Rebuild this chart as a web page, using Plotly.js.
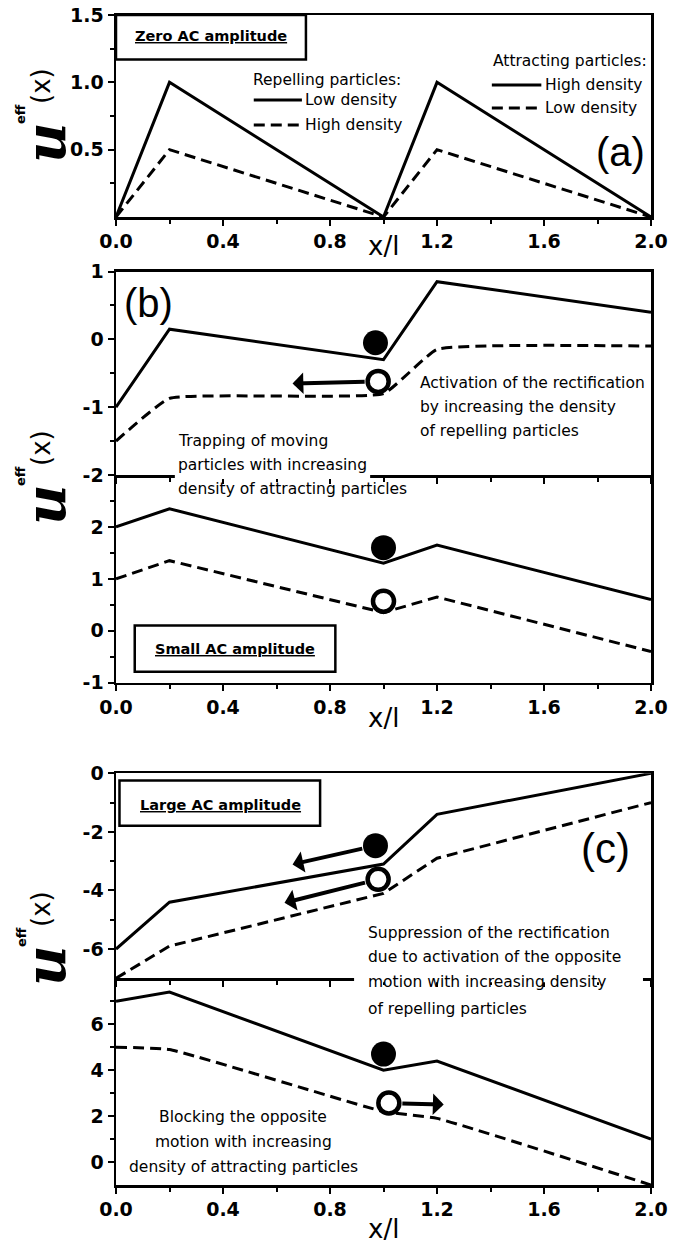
<!DOCTYPE html>
<html><head><meta charset="utf-8">
<script src="https://cdn.plot.ly/plotly-3.0.1.min.js"></script>
<style>html,body{margin:0;padding:0;background:#fff}</style>
</head><body><div id="chart" style="width:694px;height:1245px"></div>
<script>
// ---------------- data ----------------
const xPts = [0, 0.2, 1.0, 1.2, 2.0];
const aSolid  = [0, 1.0, 0, 1.0, 0];
const aDashed = [0, 0.5, 0, 0.5, 0];
const bUpperSolid  = [-1.0, 0.15, -0.3, 0.85, 0.4];
const bUpperDashed = [-1.5, -0.87, -0.8, -0.15, -0.1];
const bLowerSolid  = [2.0, 2.35, 1.3, 1.65, 0.6];
const bLowerDashed = [1.0, 1.35, 0.35, 0.65, -0.4];
const cUpperSolid  = [-6.0, -4.4, -3.1, -1.4, 0];
const cUpperDashed = [-7.0, -5.9, -4.1, -2.9, -1.0];
const cLowerSolid  = [7.0, 7.4, 4.0, 4.4, 1.0];
const cLowerDashed = [5.0, 4.9, 2.2, 1.9, -1.0];

// particles: filled (solid curve) and open (dashed curve)
const bUpperFilledX = [0.97], bUpperFilledY = [-0.05];
const bUpperOpenX   = [0.98], bUpperOpenY   = [-0.62];
const bLowerFilledX = [1.0],  bLowerFilledY = [1.6];
const bLowerOpenX   = [1.0],  bLowerOpenY   = [0.57];
const cUpperFilledX = [0.97], cUpperFilledY = [-2.47];
const cUpperOpenX   = [0.98], cUpperOpenY   = [-3.62];
const cLowerFilledX = [1.0],  cLowerFilledY = [4.7];
const cLowerOpenX   = [1.02], cLowerOpenY   = [2.57];

// arrows: [tailX, tailY, headX, headY]
const bArrow  = [0.98, -0.62, 0.66, -0.65];
const cArrow1 = [0.97, -2.47, 0.66, -3.11];
const cArrow2 = [0.98, -3.62, 0.63, -4.42];
const cArrow3 = [1.02, 2.57, 1.225, 2.5];

// ticks
const xTickVals = [0, 0.4, 0.8, 1.2, 1.6, 2.0];
const xTickText = ['0.0', '0.4', '0.8', '1.2', '1.6', '2.0'];
const xMinorVals = [0.2, 0.6, 1.0, 1.4, 1.8];
const aYTickVals = [0.5, 1.0, 1.5], aYTickText = ['0.5', '1.0', '1.5'], aYMinor = [0.25, 0.75, 1.25];
const bUYTickVals = [-2, -1, 0, 1], bUYTickText = ['-2', '-1', '0', '1'], bUYMinor = [-1.5, -0.5, 0.5];
const bLYTickVals = [-1, 0, 1, 2], bLYTickText = ['-1', '0', '1', '2'], bLYMinor = [-0.5, 0.5, 1.5, 2.5];
const cUYTickVals = [-6, -4, -2, 0], cUYTickText = ['-6', '-4', '-2', '0'], cUYMinor = [-5, -3, -1];
const cLYTickVals = [0, 2, 4, 6], cLYTickText = ['0', '2', '4', '6'], cLYMinor = [1, 3, 5, 7];

// ---------------- layout helpers ----------------
const H = 1245, W = 694;
const P = py => 1 - py / H;
const XD = [116 / W, 651 / W];
const TXT = 'DejaVu Sans';
const tickFont = {family: 'DejaVu Sans', size: 19, color: '#000', weight: 'bold'};

function xax(anchor, labels, mirror) {
  return {
    domain: XD, anchor: anchor, range: [0, 2], showgrid: false, zeroline: false,
    showline: true, linewidth: 2.5, linecolor: '#000', mirror: mirror,
    tickmode: 'array', tickvals: xTickVals, ticktext: xTickText,
    showticklabels: labels, ticks: 'outside', ticklen: 6, tickwidth: 2, tickcolor: '#000',
    tickfont: tickFont, fixedrange: true,
    minor: {tickmode: 'array', tickvals: xMinorVals, ticks: 'outside', ticklen: 4, tickwidth: 2, tickcolor: '#000'}
  };
}
function yax(anchor, dom, range, tv, tt, mv) {
  return {
    domain: dom, anchor: anchor, range: range, showgrid: false, zeroline: false,
    showline: true, linewidth: 2.5, linecolor: '#000', mirror: true,
    tickmode: 'array', tickvals: tv, ticktext: tt,
    ticks: 'outside', ticklen: 6, tickwidth: 2, tickcolor: '#000',
    tickfont: tickFont, fixedrange: true,
    minor: {tickmode: 'array', tickvals: mv, ticks: 'outside', ticklen: 4, tickwidth: 2, tickcolor: '#000'}
  };
}

function line(y, xa, ya, dashed, smooth) {
  return {
    x: xPts, y: y, xaxis: xa, yaxis: ya, mode: 'lines', showlegend: false, hoverinfo: 'skip',
    line: {color: '#000', width: 3, dash: dashed ? '11px,6px' : 'solid',
           shape: smooth ? 'spline' : 'linear', smoothing: smooth ? 0.35 : 0}
  };
}
function particle(x, y, xa, ya, filled) {
  return {
    x: x, y: y, xaxis: xa, yaxis: ya, mode: 'markers', showlegend: false, hoverinfo: 'skip',
    marker: {symbol: 'circle', size: filled ? 25 : 21, color: filled ? '#000' : '#fff',
             line: {color: '#000', width: filled ? 0 : 4.5}}
  };
}

const traces = [
  line(aSolid, 'x', 'y', false), line(aDashed, 'x', 'y', true),
  line(bUpperSolid, 'x2', 'y2', false), line(bUpperDashed, 'x2', 'y2', true, true),
  line(bLowerSolid, 'x3', 'y3', false), line(bLowerDashed, 'x3', 'y3', true),
  line(cUpperSolid, 'x4', 'y4', false), line(cUpperDashed, 'x4', 'y4', true),
  line(cLowerSolid, 'x5', 'y5', false), line(cLowerDashed, 'x5', 'y5', true, true),
  particle(bUpperFilledX, bUpperFilledY, 'x2', 'y2', true),
  particle(bUpperOpenX, bUpperOpenY, 'x2', 'y2', false),
  particle(bLowerFilledX, bLowerFilledY, 'x3', 'y3', true),
  particle(bLowerOpenX, bLowerOpenY, 'x3', 'y3', false),
  particle(cUpperFilledX, cUpperFilledY, 'x4', 'y4', true),
  particle(cUpperOpenX, cUpperOpenY, 'x4', 'y4', false),
  particle(cLowerFilledX, cLowerFilledY, 'x5', 'y5', true),
  particle(cLowerOpenX, cLowerOpenY, 'x5', 'y5', false)
];

// ---------------- annotations ----------------
const ann = [];
function txt(text, x, xref, py, opts) {
  ann.push(Object.assign({
    text: text, x: x, xref: xref, y: P(py), yref: 'paper', showarrow: false,
    xanchor: 'left', yanchor: 'middle', font: {family: TXT, size: 15.5, color: '#000'}
  }, opts || {}));
}
function arrow(a, xref, yref) {
  ann.push({
    text: '', x: a[2], y: a[3], ax: a[0], ay: a[1], xref: xref, yref: yref, axref: xref, ayref: yref,
    showarrow: true, arrowhead: 1, arrowsize: 0.9, arrowwidth: 4, arrowcolor: '#000',
    startstandoff: 12, standoff: 0
  });
}

// panel (a)
txt('<u><b>Zero AC amplitude</b></u>', 0.355, 'x', 36, {xanchor: 'center', font: {family: TXT, size: 14.5, color: '#000'}});
txt('Repelling particles:', 0.505, 'x', 80);
txt('Low density', 0.70, 'x', 100);
txt('High density', 0.70, 'x', 125);
txt('Attracting particles:', 1.40, 'x', 61);
txt('High density', 1.595, 'x', 85);
txt('Low density', 1.595, 'x', 108);
txt('(a)', 1.885, 'x', 152, {xanchor: 'center', font: {family: 'Liberation Sans', size: 40, color: '#000'}});

// panel (b)
txt('(b)', 0.12, 'x2', 303, {xanchor: 'center', font: {family: 'Liberation Sans', size: 40, color: '#000'}});
txt('Activation of the rectification', 1.13, 'x2', 383);
txt('by increasing the density', 1.13, 'x2', 407);
txt('of repelling particles', 1.13, 'x2', 431);
txt('Trapping of moving', 0.225, 'x2', 441);
txt('particles with increasing', 0.225, 'x2', 465);
txt('density of attracting particles', 0.225, 'x2', 489);
txt('<u><b>Small AC amplitude</b></u>', 0.445, 'x3', 649, {xanchor: 'center', font: {family: TXT, size: 14.5, color: '#000'}});

// panel (c)
txt('<u><b>Large AC amplitude</b></u>', 0.39, 'x4', 805, {xanchor: 'center', font: {family: TXT, size: 14.5, color: '#000'}});
txt('(c)', 1.83, 'x4', 848, {xanchor: 'center', font: {family: 'Liberation Sans', size: 42, color: '#000'}});
txt('Suppression of the rectification', 0.935, 'x4', 933);
txt('due to activation of the opposite', 0.935, 'x4', 957);
txt('motion with increasing density', 0.935, 'x4', 982);
txt('of repelling particles', 0.935, 'x4', 1009);
txt('Blocking the opposite', 0.475, 'x5', 1117, {xanchor: 'center'});
txt('motion with increasing', 0.475, 'x5', 1142, {xanchor: 'center'});
txt('density of attracting particles', 0.475, 'x5', 1167, {xanchor: 'center'});

// x titles
[[246, 'x'], [718, 'x3'], [1229, 'x5']].forEach(([py, xr]) =>
  txt('x/l', 1.0, xr, py, {xanchor: 'center', font: {family: TXT, size: 26, color: '#000'}}));

// y titles (u^eff(x)), rotated
[143, 505, 966].forEach(py => {
  ann.push({text: 'u', x: 45 / W, xref: 'paper', y: P(py), yref: 'paper', showarrow: false,
    textangle: -90, xanchor: 'center', yanchor: 'middle',
    font: {family: 'DejaVu Serif', size: 56, color: '#000', weight: 'bold', style: 'italic'}});
  ann.push({text: 'eff', x: 21 / W, xref: 'paper', y: P(py - 29), yref: 'paper', showarrow: false,
    textangle: -90, xanchor: 'center', yanchor: 'middle',
    font: {family: 'DejaVu Sans', size: 13, color: '#000', weight: 'bold'}});
  ann.push({text: '(x)', x: 41 / W, xref: 'paper', y: P(py - 57), yref: 'paper', showarrow: false,
    textangle: -90, xanchor: 'center', yanchor: 'middle',
    font: {family: 'DejaVu Sans', size: 26, color: '#000'}});
});

arrow(bArrow, 'x2', 'y2');
arrow(cArrow1, 'x4', 'y4');
arrow(cArrow2, 'x4', 'y4');
arrow(cArrow3, 'x5', 'y5');

// ---------------- shapes (boxes, legend samples, text backgrounds) ----------------
const shapes = [];
function box(x0, x1, y0, y1, xr, yr) {
  shapes.push({type: 'rect', xref: xr, yref: yr, x0: x0, x1: x1, y0: y0, y1: y1,
    line: {color: '#000', width: 2.5}, fillcolor: '#fff', layer: 'above'});
}
box(0, 0.71, 1.17, 1.5, 'x', 'y');
box(0.07, 0.82, -0.79, 0.10, 'x3', 'y3');
box(0.013, 0.763, -1.79, -0.25, 'x4', 'y4');
function sample(x0, x1, py, dashed) {
  shapes.push({type: 'line', xref: 'x', yref: 'paper', x0: x0, x1: x1, y0: P(py), y1: P(py),
    line: {color: '#000', width: 3, dash: dashed ? '11px,6px' : 'solid'}, layer: 'above'});
}
sample(0.515, 0.695, 100, false);
sample(0.515, 0.695, 125, true);
sample(1.405, 1.59, 85, false);
sample(1.405, 1.59, 108, true);
function gap(x0, x1, xr, py) {
  shapes.push({type: 'rect', xref: xr, yref: 'paper', x0: x0, x1: x1, y0: P(py + 4), y1: P(py - 4),
    line: {width: 0}, fillcolor: '#fff', layer: 'above'});
}
gap(0.22, 0.95, 'x2', 475);
gap(0.89, 1.97, 'x4', 978.3);

const layout = {
  width: W, height: H, margin: {l: 0, r: 0, t: 0, b: 0},
  paper_bgcolor: '#fff', plot_bgcolor: 'rgba(0,0,0,0)', showlegend: false,
  font: {family: TXT, color: '#000'},
  xaxis: xax('y', true, true),
  xaxis2: xax('y2', false, true),
  xaxis3: xax('y3', true, false),
  xaxis4: xax('y4', false, true),
  xaxis5: xax('y5', true, false),
  yaxis:  yax('x',  [P(217), P(15)],      [0, 1.5], aYTickVals, aYTickText, aYMinor),
  yaxis2: yax('x2', [P(475), P(271.5)],   [-2, 1], bUYTickVals, bUYTickText, bUYMinor),
  yaxis3: yax('x3', [P(682.7), P(475)],   [-1, 3], bLYTickVals, bLYTickText, bLYMinor),
  yaxis4: yax('x4', [P(978.3), P(773.3)], [-7, 0], cUYTickVals, cUYTickText, cUYMinor),
  yaxis5: yax('x5', [P(1185), P(978.3)],  [-1, 8], cLYTickVals, cLYTickText, cLYMinor),
  annotations: ann, shapes: shapes
};
Plotly.newPlot('chart', traces, layout, {staticPlot: true, displayModeBar: false});
</script></body></html>
